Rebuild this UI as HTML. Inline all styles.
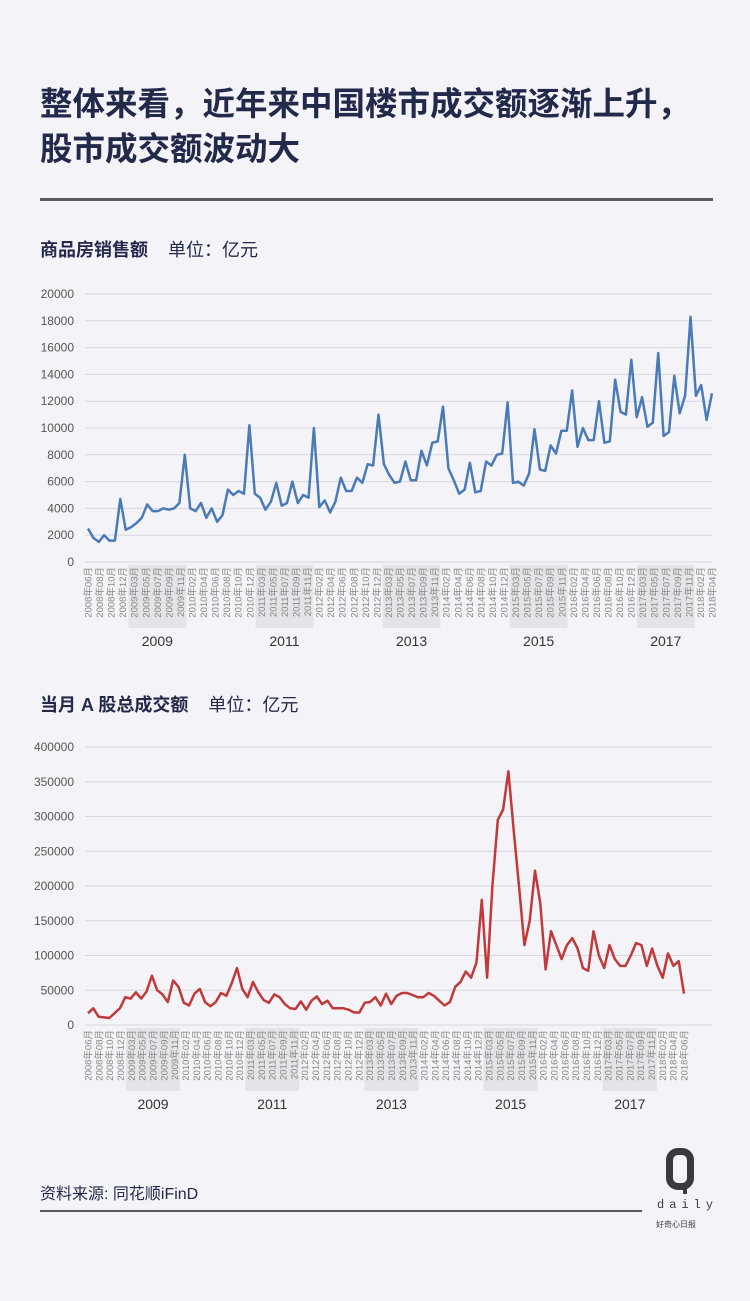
<!DOCTYPE html>
<html><head><meta charset="utf-8">
<style>
body{margin:0;background:#f4f4f8;}
#c{position:relative;width:750px;height:1301px;overflow:hidden;font-family:"Liberation Sans","Noto Sans CJK SC",sans-serif;}
.t{position:absolute;left:40px;font-size:32.5px;font-weight:bold;color:#23294a;line-height:45px;white-space:nowrap}
.s{position:absolute;left:40px;font-size:18px;color:#23294a;white-space:nowrap}
</style></head><body><div id="c">
<div class="t" style="top:82px">整体来看，近年来中国楼市成交额逐渐上升，</div>
<div class="t" style="top:127px">股市成交额波动大</div>
<div style="position:absolute;left:40px;top:198px;width:673px;height:3px;background:#5a5a5e"></div>
<div class="s" style="top:236px"><b>商品房销售额</b>&nbsp;&nbsp;&nbsp;&nbsp;单位：亿元</div>
<div class="s" style="top:691px"><b>当月 A 股总成交额</b>&nbsp;&nbsp;&nbsp;&nbsp;单位：亿元</div>
<div class="s" style="top:1180px;font-size:16px">资料来源: 同花顺iFinD</div>
<div style="position:absolute;left:40px;top:1210px;width:602px;height:2px;background:#5a5a5e"></div>
<div style="position:absolute;left:666px;top:1148px;width:28px;height:42px;border:7px solid #3a3a3e;border-radius:12px;box-sizing:border-box"></div>
<div style="position:absolute;left:683px;top:1186px;width:4px;height:8px;background:#3a3a3e"></div>
<div style="position:absolute;left:657px;top:1198px;font-size:12px;letter-spacing:5px;color:#3a3a3e;font-family:'Liberation Mono',monospace">daily</div>
<div style="position:absolute;left:656px;top:1219px;font-size:8px;color:#3a3a3e">好奇心日报</div>
<svg id="g" width="750" height="1301" style="position:absolute;left:0;top:0"></svg>
</div>
<script>
var NS="http://www.w3.org/2000/svg",g=document.getElementById('g');
function el(n,a,t){var e=document.createElementNS(NS,n);for(var k in a)e.setAttribute(k,a[k]);if(t!=null)e.textContent=t;g.appendChild(e);return e;}
function labels(endMonths){var L=[["2008",[6,8,10,12]]];for(var y=2009;y<=2017;y++)L.push([""+y,y%2?[3,5,7,9,11]:[2,4,6,8,10,12]]);L.push(["2018",endMonths]);return L;}
function chart(o){
 for(var i=0;i<=o.n;i++){var y=o.y0-i*o.dy;el('line',{x1:o.gx,x2:712,y1:y,y2:y,stroke:'#d6d6de','stroke-width':1});
  el('text',{x:74,y:y+4,'text-anchor':'end','font-size':12,fill:'#555'},i*o.step);}
 var L=labels(o.em),cnt=0;L.forEach(function(a){cnt+=a[1].length});
 var sp=(o.x1-o.x0)/(cnt-1),idx=0;
 L.forEach(function(a){var s=idx,e=idx+a[1].length-1,yr=+a[0];
  if(yr%2){el('rect',{x:o.x0+s*sp-sp/2,y:o.y0+3,width:(e-s+1)*sp,height:63,fill:'#e4e4e8'});
   el('text',{x:o.x0+(s+e)/2*sp,y:o.y0+84,'text-anchor':'middle','font-size':14,fill:'#333'},a[0]);}
  idx=e+1;});
 idx=0;L.forEach(function(a){a[1].forEach(function(m){var x=o.x0+idx*sp+3.5,y=o.y0+5;
  el('text',{x:x,y:y,'text-anchor':'end','font-size':9.5,fill:'#888',transform:'rotate(-90 '+x+' '+y+')'},a[0]+'年'+(m<10?'0':'')+m+'月');idx++;});});
 var d=o.d,pts=d.map(function(v,i){return (o.x0+i*(o.x1-o.x0)/(d.length-1)).toFixed(1)+','+(o.y0-v/o.step*o.dy).toFixed(1)}).join(' ');
 el('polyline',{points:pts,fill:'none',stroke:o.c,'stroke-width':2.5,'stroke-linejoin':'round'});
}
var d1=[2500,1800,1500,2000,1600,1600,4700,
2400,2600,2900,3300,4300,3800,3800,4000,3900,4000,4400,8000,
4000,3800,4400,3300,4000,3000,3500,5400,5000,5300,5100,10200,
5100,4800,3900,4500,5900,4200,4400,6000,4400,5000,4800,10000,
4100,4600,3700,4500,6300,5300,5300,6300,5900,7300,7200,11000,
7300,6500,5900,6000,7500,6100,6100,8300,7200,8900,9000,11600,
7000,6100,5100,5400,7400,5200,5300,7500,7200,8000,8100,11900,
5900,6000,5700,6600,9900,6900,6800,8700,8100,9800,9800,12800,
8600,10000,9100,9100,12000,8900,9000,13600,11200,11000,15100,10800,
12300,10100,10400,15600,9400,9700,13900,11100,12400,18300,12400,13200,10600,12600];
var d2=[17000,24000,12000,11000,10000,17000,24000,
40000,38000,47000,38000,48000,71000,50000,44000,33000,64000,55000,32000,
28000,45000,52000,33000,27000,33000,46000,42000,60000,82000,52000,40000,
62000,47000,36000,32000,44000,40000,30000,24000,23000,34000,22000,35000,
41000,30000,35000,24000,24000,24000,22000,18000,18000,32000,33000,40000,
28000,45000,30000,42000,46000,46000,43000,40000,40000,46000,42000,35000,
28000,33000,55000,62000,77000,68000,90000,180000,68000,200000,295000,310000,
365000,280000,200000,115000,150000,222000,175000,80000,135000,115000,95000,115000,
125000,110000,82000,78000,135000,100000,82000,115000,95000,85000,85000,100000,
118000,115000,85000,110000,85000,68000,103000,85000,92000,45000];
chart({y0:562,dy:26.8,n:10,step:2000,gx:85,x0:88,x1:712,em:[2,4],d:d1,c:'#4a7bb7'});
chart({y0:1025,dy:34.75,n:8,step:50000,gx:85,x0:88,x1:684,em:[2,4,6],d:d2,c:'#c0393b'});
</script>
</body></html>
